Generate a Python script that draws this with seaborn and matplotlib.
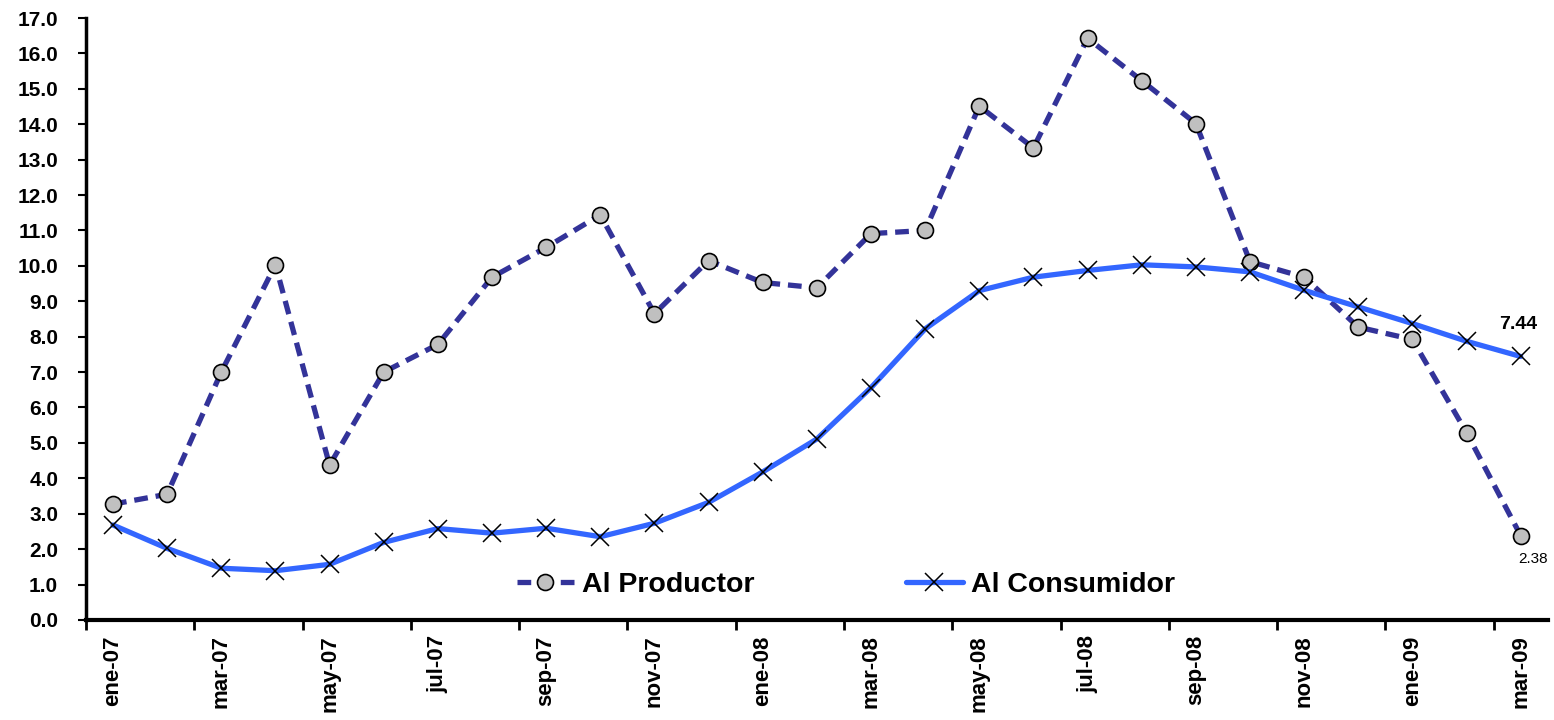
"""
plot.py - Inflacion anual: al productor vs al consumidor (ene-07 a mar-09).
"""

import pandas as pd
import seaborn as sns
import matplotlib.pyplot as plt
from matplotlib.ticker import FixedLocator

months = ['ene-07', 'feb-07', 'mar-07', 'abr-07', 'may-07', 'jun-07', 'jul-07',
          'ago-07', 'sep-07', 'oct-07', 'nov-07', 'dic-07', 'ene-08', 'feb-08',
          'mar-08', 'abr-08', 'may-08', 'jun-08', 'jul-08', 'ago-08', 'sep-08',
          'oct-08', 'nov-08', 'dic-08', 'ene-09', 'feb-09', 'mar-09']

productor = [3.27, 3.55, 7.00, 10.03, 4.37, 7.00, 7.78, 9.68, 10.52, 11.44,
             8.65, 10.15, 9.53, 9.38, 10.91, 11.00, 14.51, 13.33, 16.43, 15.23,
             14.02, 10.12, 9.68, 8.27, 7.92, 5.29, 2.38]

consumidor = [2.68, 2.02, 1.46, 1.39, 1.57, 2.19, 2.58, 2.45, 2.59, 2.35,
              2.73, 3.32, 4.18, 5.11, 6.56, 8.22, 9.30, 9.68, 9.87, 10.03,
              9.97, 9.83, 9.31, 8.84, 8.37, 7.87, 7.44]

label_prod = 'Al Productor'
label_cons = 'Al Consumidor'


def build_frame():
    """Put the series into one small table indexed by month position."""
    return pd.DataFrame({
        'pos': range(len(months)),
        'mes': months,
        'productor': productor,
        'consumidor': consumidor,
    })


def draw(df):
    sns.set_style('white', rc={'text.color': 'black', 'xtick.color': 'black',
                               'ytick.color': 'black', 'axes.edgecolor': 'black'})
    plt.rcParams['font.family'] = ['Liberation Sans', 'DejaVu Sans']
    plt.rcParams['font.weight'] = 'bold'

    fig = plt.figure(figsize=(15.54, 7.2), dpi=100)
    ax = fig.add_axes([0.0553, 0.139, 0.9407, 0.836])

    sns.lineplot(data=df, x='pos', y='productor', ax=ax, color='#333399',
                 linewidth=3.8, dashes=False, linestyle=(0, (2.6, 1.5)),
                 marker='o', markersize=11.5, markerfacecolor='#c0c0c0',
                 markeredgecolor='black', markeredgewidth=1.2,
                 label=label_prod)
    sns.lineplot(data=df, x='pos', y='consumidor', ax=ax, color='#3366ff',
                 linewidth=3.8, marker='x', markersize=12.5,
                 markeredgecolor='black', markeredgewidth=1.1,
                 label=label_cons)

    # last values
    ax.annotate(f'{consumidor[-1]:.2f}', (len(months) - 1, consumidor[-1]),
                xytext=(-2, 23), textcoords='offset points', ha='center',
                va='center', fontsize=14, fontweight='bold')
    ax.annotate(f'{productor[-1]:.2f}', (len(months) - 1, productor[-1]),
                xytext=(9, -17), textcoords='offset points', ha='center',
                va='center', fontsize=11, fontweight='normal')

    # axes
    ax.set_xlim(-0.5, len(months) - 0.5)
    ax.set_ylim(0, 17)
    ax.set_yticks([i * 1.0 for i in range(18)])
    ax.set_yticklabels([f'{i:.1f}' for i in range(18)], fontsize=15,
                       fontweight='bold')

    ax.xaxis.set_major_locator(FixedLocator([i - 0.5 for i in range(0, len(months), 2)]))
    ax.xaxis.set_minor_locator(FixedLocator(list(range(0, len(months), 2))))
    ax.set_xticklabels([], minor=False)
    ax.set_xticklabels(months[::2], minor=True, rotation=90, fontsize=16,
                       fontweight='bold', va='top')
    ax.tick_params(axis='x', which='major', length=7, width=2, direction='out',
                   bottom=True)
    ax.tick_params(axis='x', which='minor', length=0, pad=11, bottom=True)
    ax.tick_params(axis='y', length=6, width=1.5, direction='out', left=True,
                   pad=14)
    ax.set_xlabel('')
    ax.set_ylabel('')

    sns.despine(ax=ax)
    ax.spines['left'].set_linewidth(2.5)
    ax.spines['bottom'].set_linewidth(3)

    ax.legend(loc='center', bbox_to_anchor=(0.52, 0.058), ncol=2,
              frameon=False, handlelength=2.0, columnspacing=5.3,
              handletextpad=0.3, prop={'size': 20.5, 'weight': 'bold'})

    fig.savefig('out.png', dpi=100)


def main():
    df = build_frame()
    draw(df)


if __name__ == '__main__':
    main()
